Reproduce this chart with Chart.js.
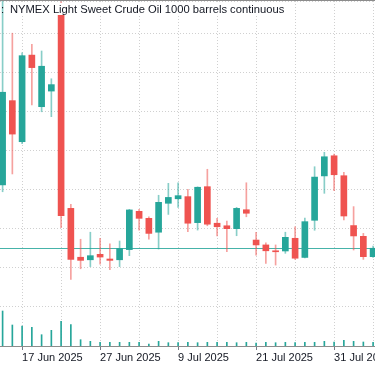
<!DOCTYPE html>
<html>
<head>
<meta charset="utf-8">
<script src="https://cdn.jsdelivr.net/npm/chart.js@4.4.1/dist/chart.umd.min.js"></script>
<style>
  html, body { margin: 0; padding: 0; background: #fff; }
  #wrap { position: relative; width: 375px; height: 366px; overflow: hidden;
          box-sizing: border-box; border-top: 1px solid #8c8c8c; }
  #title { position: absolute; left: 0; top: 2px; font: 11.2px "Liberation Sans", Arial, sans-serif;
           color: #131722; white-space: nowrap; line-height: 13px; }
  #title .sep { display: inline-block; width: 6px; padding-left: 1px; }
  #title .name { background: #fff; padding: 0 2px 0 3px; }
</style>
</head>
<body>
<div id="wrap">
  <canvas id="c" width="375" height="365"></canvas>
  <div id="title"><span class="sep">:</span><span class="name">NYMEX Light Sweet Crude Oil 1000 barrels continuous</span></div>
</div>
<script>
// 일봉 (13 Jun ~ 6 Aug 2025), 값은 그림에서 읽은 추정치
const dates = ['13 Jun 2025', '16 Jun 2025', '17 Jun 2025', '18 Jun 2025', '19 Jun 2025', '20 Jun 2025',
    '23 Jun 2025', '24 Jun 2025', '25 Jun 2025', '26 Jun 2025', '27 Jun 2025', '30 Jun 2025',
    '1 Jul 2025', '2 Jul 2025', '3 Jul 2025', '4 Jul 2025', '7 Jul 2025', '8 Jul 2025', '9 Jul 2025',
    '10 Jul 2025', '11 Jul 2025', '14 Jul 2025', '15 Jul 2025', '16 Jul 2025', '17 Jul 2025', '18 Jul 2025',
    '21 Jul 2025', '22 Jul 2025', '23 Jul 2025', '24 Jul 2025', '25 Jul 2025', '28 Jul 2025', '29 Jul 2025',
    '30 Jul 2025', '31 Jul 2025', '1 Aug 2025', '4 Aug 2025', '5 Aug 2025', '6 Aug 2025'];
const open = [68.24, 72.55, 70.45, 74.88, 72.24, 73.04, 77.03, 67.04, 64.54, 64.41, 64.69, 64.45, 64.41,
    64.93, 66.89, 66.53, 65.82, 67.30, 67.53, 67.64, 66.31, 68.15, 66.28, 66.15, 66.00, 66.97, 65.42,
    65.17, 64.87, 64.86, 65.51, 64.53, 66.43, 68.70, 69.73, 68.71, 66.16, 65.61, 64.57];
const high = [78.00, 76.00, 75.00, 75.43, 75.09, 73.67, 77.60, 67.25, 65.46, 65.82, 65.51, 65.22, 65.37,
    66.99, 66.99, 66.61, 67.71, 68.32, 68.35, 68.02, 68.14, 69.04, 66.53, 66.39, 67.09, 68.35, 65.82,
    65.28, 65.17, 65.82, 66.10, 66.54, 69.17, 69.91, 69.82, 68.88, 67.13, 65.76, 65.11];
const low = [67.89, 68.80, 70.35, 72.33, 71.98, 71.73, 66.05, 63.41, 63.95, 64.06, 64.19, 63.90, 64.06,
    64.62, 65.93, 65.46, 64.96, 66.73, 67.09, 65.85, 65.93, 66.15, 65.63, 64.82, 65.64, 66.61, 64.65,
    64.23, 64.14, 64.74, 64.43, 64.50, 65.92, 67.81, 67.94, 66.45, 64.91, 64.43, 64.53];
const close = [72.98, 70.84, 74.85, 74.24, 74.31, 73.37, 66.67, 64.43, 64.38, 64.62, 64.55, 64.38, 64.99,
    66.96, 66.53, 65.76, 67.35, 67.60, 67.69, 66.28, 68.12, 66.23, 66.10, 66.00, 67.04, 66.79, 65.17,
    64.87, 64.82, 65.56, 64.49, 66.36, 68.64, 69.68, 68.76, 66.65, 65.63, 64.57, 65.00];
const volume = [350, 210, 200, 187, 113, 157, 247, 213, 63, 47, 37, 37, 37, 37, 37, 20, 47, 33, 33, 37,
    33, 37, 37, 37, 33, 37, 30, 37, 33, 37, 33, 37, 37, 47, 40, 57, 47, 40, 37];

const UP = '#26a69a', DOWN = '#ef5350';
const UP_WICK = 'rgba(38,166,154,0.55)', DOWN_WICK = 'rgba(239,83,80,0.55)';
const GRID = '#d0d0d0';
const FONT = { family: '"Liberation Sans", Arial, sans-serif', size: 11 };

const isUp = i => close[i] >= open[i];
const gridIdx = dates.map((_, i) => i).filter(i => (i - 2) % 4 === 0);   // 세로 격자: 4봉마다
const labelIdx = new Set(gridIdx.filter(i => (i - 2) % 8 === 0));          // 날짜 라벨: 8봉마다

// 마지막 종가 수평선 (캔들 뒤에 그림)
const lastPriceLine = {
    id: 'lastPriceLine',
    beforeDatasetsDraw(chart) {
        const { ctx, chartArea: a, scales } = chart;
        const y = Math.round(scales.y.getPixelForValue(close[close.length - 1])) + 0.5;
        ctx.save();
        ctx.strokeStyle = 'rgba(38,166,154,0.85)';
        ctx.lineWidth = 1;
        ctx.beginPath();
        ctx.moveTo(a.left, y);
        ctx.lineTo(a.right, y);
        ctx.stroke();
        ctx.restore();
    }
};

new Chart(document.getElementById('c'), {
    type: 'bar',
    data: {
        datasets: [
            {   // 꼬리
                data: dates.map((_, i) => ({ x: i, y: [low[i], high[i]] })),
                backgroundColor: dates.map((_, i) => isUp(i) ? UP_WICK : DOWN_WICK),
                barThickness: 1, grouped: false, order: 3, yAxisID: 'y',
            },
            {   // 몸통
                data: dates.map((_, i) => ({ x: i, y: [open[i], close[i]] })),
                backgroundColor: dates.map((_, i) => isUp(i) ? UP : DOWN),
                barThickness: 6, minBarLength: 1, grouped: false, order: 2, yAxisID: 'y',
            },
            {   // 거래량
                data: dates.map((_, i) => ({ x: i, y: volume[i] })),
                backgroundColor: UP,
                barThickness: 1, grouped: false, order: 1, yAxisID: 'yv',
            },
        ]
    },
    options: {
        responsive: false,
        animation: false,
        layout: { padding: 0 },
        plugins: { legend: { display: false }, tooltip: { enabled: false } },
        scales: {
            x: {
                type: 'linear',
                offset: false,
                min: -2.6 / 9.75,
                max: (375 - 2.6) / 9.75,
                afterBuildTicks: s => { s.ticks = gridIdx.map(v => ({ value: v })); },
                afterFit: s => { s.height = 20; s.paddingLeft = 0; s.paddingRight = 0; },
                ticks: {
                    autoSkip: false, maxRotation: 0, align: 'start', padding: 1,
                    color: '#131722', font: FONT,
                    callback: v => labelIdx.has(v) ? dates[v] : '',
                },
                grid: {
                    offset: false, color: GRID, tickLength: 4,
                    tickColor: c => c.tick && labelIdx.has(c.tick.value) ? '#787b86' : 'rgba(0,0,0,0)',
                },
                border: { color: '#8c8c8c', dash: [1, 2] },
            },
            y: {
                position: 'left',
                min: 60, max: 60 + 345 / 19.55,
                afterFit: s => { s.width = 0; },
                ticks: { display: false, stepSize: 2 },
                grid: { color: GRID, drawTicks: false },
                border: { display: false, dash: [1, 2] },
            },
            yv: { display: false, min: 0, max: 3450 },
        }
    },
    plugins: [lastPriceLine]
});
</script>
</body>
</html>
